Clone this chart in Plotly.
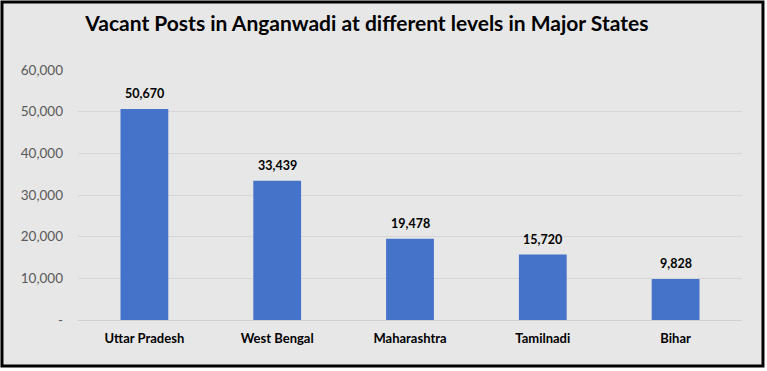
import plotly.graph_objects as go

states = ["Uttar Pradesh", "West Bengal", "Maharashtra", "Tamilnadi", "Bihar"]
vacant_posts = [50670, 33439, 19478, 15720, 9828]
y_tick_vals = [0, 10000, 20000, 30000, 40000, 50000, 60000]
y_tick_text = ["-", "10,000", "20,000", "30,000", "40,000", "50,000", "60,000"]
title_text = "Vacant Posts in Anganwadi at different levels in Major States"

FONT = "Lato, 'Open Sans', sans-serif"

fig = go.Figure(go.Bar(
    x=states,
    y=vacant_posts,
    marker=dict(color="#4473c9", line=dict(width=0)),
    hoverinfo="x+y",
))

annotations = [
    dict(x=s, y=v, xref="x", yref="y", text=f"{v:,}", showarrow=False,
         yanchor="bottom", yshift=6,
         font=dict(family=FONT, size=12.5, color="#000000", weight="bold"))
    for s, v in zip(states, vacant_posts)
]

fig.update_layout(
    width=767, height=371,
    margin=dict(l=78, r=25, t=70, b=51),
    paper_bgcolor="#ffffff",
    plot_bgcolor="rgba(0,0,0,0)",
    bargap=0.64,
    showlegend=False,
    annotations=annotations,
    title=dict(text=title_text, x=0.435, xref="paper", xanchor="center",
               y=0.935, yref="container", yanchor="middle",
               font=dict(family=FONT, size=21, color="#000000", weight="bold")),
    xaxis=dict(showgrid=False, showline=True, linecolor="#d0d0d0", linewidth=1,
               ticks="", tickfont=dict(family=FONT, size=13, color="#000000", weight="bold"),
               ticklabelstandoff=6),
    yaxis=dict(range=[0, 60000], tickvals=y_tick_vals, ticktext=y_tick_text,
               showgrid=True, gridcolor="#d6d6d6", gridwidth=1, zeroline=False,
               ticks="", tickfont=dict(family=FONT, size=13.5, color="#595959"),
               ticklabelstandoff=14),
    shapes=[dict(type="rect", xref="paper", yref="paper", layer="below",
                 x0=-0.1145, x1=1.0316, y0=-0.184, y1=1.272,
                 fillcolor="#e7e7e7", line=dict(color="#000000", width=3))],
)

fig.write_html("out.html", config={"displayModeBar": False},
               post_script="document.body.style.margin='0';document.body.style.overflow='hidden';")
